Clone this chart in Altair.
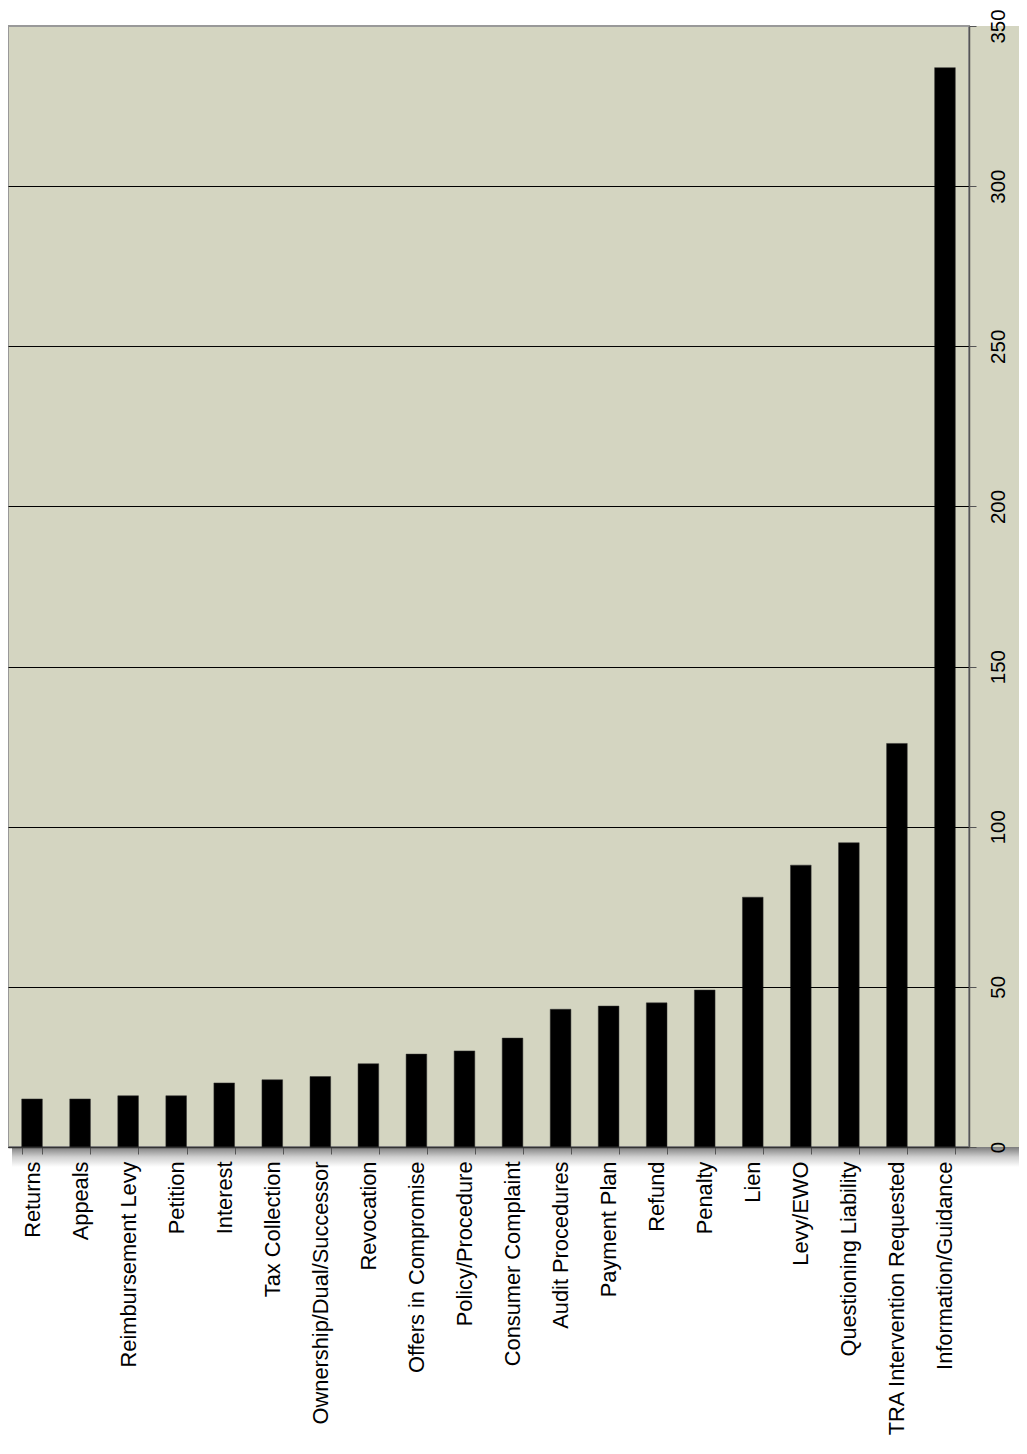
import altair as alt
import pandas as pd

categories = [
    "Returns", "Appeals", "Reimbursement Levy", "Petition", "Interest",
    "Tax Collection", "Ownership/Dual/Successor", "Revocation",
    "Offers in Compromise", "Policy/Procedure", "Consumer Complaint",
    "Audit Procedures", "Payment Plan", "Refund", "Penalty", "Lien",
    "Levy/EWO", "Questioning Liability", "TRA Intervention Requested",
    "Information/Guidance",
]
counts = [15, 15, 16, 16, 20, 21, 22, 26, 29, 30, 34, 43, 44, 45, 49, 78, 88, 95, 126, 337]
y_ticks = [0, 50, 100, 150, 200, 250, 300, 350]

W = 961
H = 1121
PAD_R = 50
BEIGE = "#D4D5C1"
FONT = "Liberation Sans"

df = pd.DataFrame({"category": categories, "count": counts})
one = alt.Data(values=[{}])

# beige chart-area extension to the right of the axis
ext = alt.Chart(one).mark_rect(color=BEIGE).encode(
    x=alt.value(W), x2=alt.value(W + PAD_R), y=alt.value(0), y2=alt.value(H)
)

# drop shadow under plot area
shadow = alt.Chart(one).mark_rect(
    color=alt.Gradient(
        gradient="linear",
        stops=[alt.GradientStop(offset=0, color="#7c7c7c"),
               alt.GradientStop(offset=0.5, color="#d0d0d0"),
               alt.GradientStop(offset=1, color="#ffffff")],
        x1=0, x2=0, y1=0, y2=1,
    )
).encode(x=alt.value(4), x2=alt.value(W + PAD_R), y=alt.value(H), y2=alt.value(H + 20))

bars = alt.Chart(df).mark_bar(color="black", stroke="#333", strokeWidth=0.5).encode(
    x=alt.X(
        "category:N", sort=None,
        scale=alt.Scale(paddingInner=0.57, paddingOuter=0.285),
        axis=alt.Axis(
            title=None, labelAngle=-90, labelAlign="right", labelBaseline="middle",
            labelFontSize=21.8, labelFont=FONT, labelColor="black", labelLimit=0,
            tickBand="extent", tickSize=7, tickColor="#555", tickWidth=1,
            domainColor="#333", domainWidth=1.5, labelPadding=7, zindex=1, grid=False,
        ),
    ),
    y=alt.Y(
        "count:Q",
        scale=alt.Scale(domain=[0, 350], nice=False),
        axis=alt.Axis(
            orient="right", values=y_ticks, title=None,
            labelAngle=-90, labelAlign="center", labelBaseline="top",
            labelFontSize=20.5, labelFont=FONT, labelColor="black",
            tickSize=7, tickColor="#555", labelPadding=12,
            domainColor="#555", domainWidth=1.5,
            gridColor=alt.condition("datum.value == 350", alt.value("#999999"), alt.value("#000000")),
            gridWidth=1, zindex=1,
        ),
    ),
)

chart = alt.layer(ext, shadow, bars).properties(
    width=W, height=H,
    padding={"left": 0, "top": 18, "right": PAD_R, "bottom": 291},
    autosize=alt.AutoSizeParams(type="none"),
).configure_view(fill=BEIGE, stroke="#999999", strokeWidth=2)

chart.save("out.html", embed_options={"renderer": "svg", "actions": False})
